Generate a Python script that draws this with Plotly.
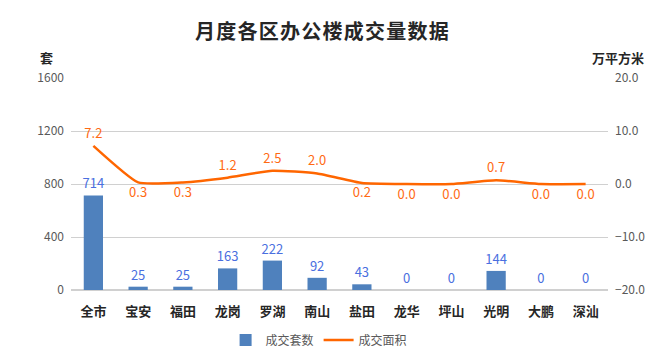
import plotly.graph_objects as go

categories = ["全市", "宝安", "福田", "龙岗", "罗湖", "南山", "盐田", "龙华", "坪山", "光明", "大鹏", "深汕"]
units_sold = [714, 25, 25, 163, 222, 92, 43, 0, 0, 144, 0, 0]
area_sold = [7.2, 0.3, 0.3, 1.2, 2.5, 2.0, 0.2, 0.0, 0.0, 0.7, 0.0, 0.0]
area_label_pos = ["top center", "bottom center", "bottom center", "top center", "top center", "top center",
                  "bottom center", "bottom center", "bottom center", "top center", "bottom center", "bottom center"]

FONT = "Noto Sans CJK SC"
BAR_COLOR = "#4F81BD"
LINE_COLOR = "#FF6600"
GRID = "#D0D0D0"
HAIR = "\u200a"
title_text = HAIR.join("月度各区办公楼成交量数据")

fig = go.Figure()
fig.add_trace(go.Bar(
    x=categories, y=units_sold, name="成交套数",
    marker=dict(color=BAR_COLOR, line=dict(width=0)),
    width=0.43,
    text=[str(v) for v in units_sold], textposition="outside", constraintext="none",
    textfont=dict(family=FONT, size=13, color="#4A6FE0"),
    cliponaxis=False,
))
fig.add_trace(go.Scatter(
    x=categories, y=area_sold, name="成交面积", yaxis="y2",
    mode="lines",
    line=dict(color=LINE_COLOR, width=2.5, shape="spline", smoothing=0.45),
    cliponaxis=False,
))
fig.add_trace(go.Scatter(
    x=categories, y=area_sold, yaxis="y2", showlegend=False, hoverinfo="skip",
    mode="markers+text",
    marker=dict(size=6, opacity=0, color=LINE_COLOR),
    text=[f"{v:.1f}" for v in area_sold], textposition=area_label_pos,
    textfont=dict(family=FONT, size=13, color="#FF6A13"),
    cliponaxis=False,
))

fig.update_layout(
    width=647, height=339,
    margin=dict(l=63, r=47, t=70, b=57, autoexpand=False),
    paper_bgcolor="white", plot_bgcolor="white",
    font=dict(family=FONT, size=12, color="#595959"),
    title=dict(text="<b>" + title_text + "</b>", x=0.485, xanchor="center", y=0.929, yanchor="middle",
               font=dict(family=FONT, size=20, color="#262626")),
    showlegend=True,
    legend=dict(orientation="h", x=0.462, xanchor="center", y=-0.236, yanchor="middle",
                font=dict(family=FONT, size=12, color="#595959"), itemwidth=30, tracegroupgap=0),
    bargap=0.57,
    xaxis=dict(range=[-0.5, 11.5], showgrid=False, showline=False, ticks="", zeroline=False, automargin=False,
               tickfont=dict(family=FONT, size=13, color="#262626", weight="bold"),
               ticklabelstandoff=12),
    yaxis=dict(range=[0, 1600], dtick=400, showgrid=True, gridcolor=GRID, gridwidth=1, automargin=False,
               zeroline=True, zerolinecolor=GRID, showline=False, ticks="",
               tickfont=dict(family=FONT, size=12, color="#595959"), ticklabelstandoff=6),
    yaxis2=dict(range=[-20, 20], dtick=10, tickformat=".1f", overlaying="y", side="right", automargin=False,
                showgrid=False, zeroline=False, showline=False, ticks="",
                tickfont=dict(family=FONT, size=12, color="#595959"), ticklabelstandoff=6),
    annotations=[
        dict(text="<b>套</b>", xref="paper", yref="paper", x=-0.045, y=1.099, xanchor="center", yanchor="middle",
             showarrow=False, font=dict(family=FONT, size=13, color="#262626")),
        dict(text="<b>万平方米</b>", xref="paper", yref="paper", x=1.019, y=1.099, xanchor="center", yanchor="middle",
             showarrow=False, font=dict(family=FONT, size=13, color="#262626")),
    ],
)

fig.write_html("out.html")
